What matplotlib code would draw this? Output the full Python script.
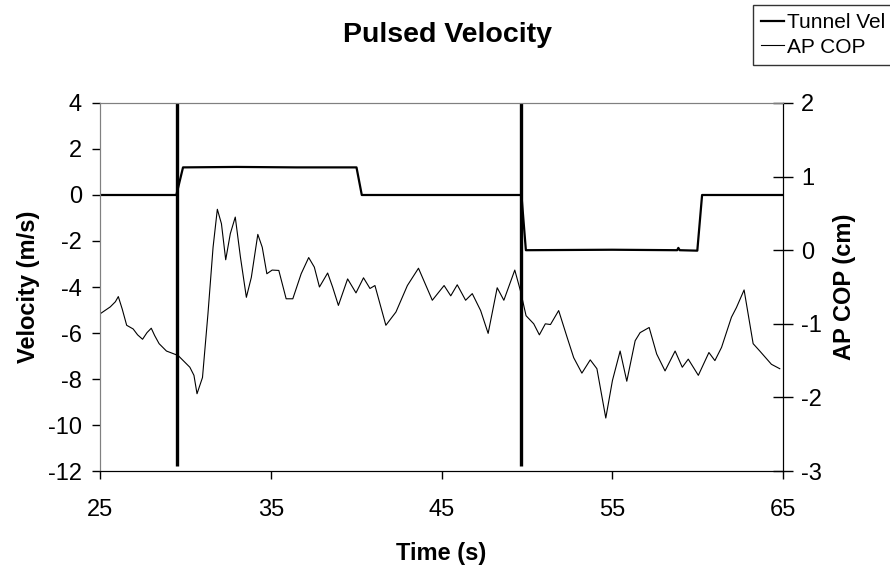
import matplotlib
import matplotlib.pyplot as plt

matplotlib.use('Agg')
plt.rcParams['font.family'] = ['Liberation Sans', 'DejaVu Sans']
plt.rcParams['axes.unicode_minus'] = False

# Tunnel velocity (m/s) against time (s)
tunnel_t = [25.0, 29.47, 29.86, 33.0, 36.5, 40.02, 40.33, 49.68, 49.94,
            55.0, 58.8, 58.87, 58.95, 59.98, 60.26, 65.0]
tunnel_v = [0.0, 0.0, 1.2, 1.22, 1.2, 1.2, 0.0, 0.0, -2.4,
            -2.38, -2.4, -2.3, -2.4, -2.42, 0.0, 0.0]

# Marker lines at the pulse onsets
pulse_t = [29.52, 49.68]
pulse_lo, pulse_hi = -11.8, 4.0

# AP COP (cm) against time (s)
cop_t = [25.0, 25.6, 25.9, 26.07, 26.3, 26.56, 26.94, 27.2, 27.49, 27.75,
         28.0, 28.2, 28.46, 28.89,
         29.57, 30.26, 30.5, 30.68, 31.0, 31.32, 31.62, 31.87, 32.11, 32.36,
         32.63, 32.92, 33.22, 33.57, 33.86, 34.24, 34.5, 34.77, 35.08, 35.47,
         35.9, 36.29, 36.78, 37.22, 37.55, 37.85, 38.33, 38.62, 38.96, 39.5,
         39.99, 40.43, 40.81, 41.1, 41.74, 42.33, 43.0, 43.65, 44.46, 45.15,
         45.54, 45.92, 46.41, 46.8, 47.29, 47.73, 48.26, 48.65, 49.29, 49.62,
         49.95, 50.4, 50.73, 51.08, 51.38, 51.86, 52.35, 52.74, 53.22, 53.71,
         54.1, 54.62, 55.01, 55.46, 55.85, 56.34, 56.63, 57.16, 57.6, 58.09,
         58.68, 59.1, 59.45, 60.04, 60.66, 61.01, 61.4, 61.98, 62.27, 62.72,
         63.25, 63.64, 64.32, 64.81]
cop_v = [-0.865, -0.77, -0.7, -0.63, -0.8, -1.02, -1.07, -1.15, -1.21, -1.12,
         -1.06, -1.16, -1.27, -1.37,
         -1.43, -1.59, -1.7, -1.95, -1.73, -0.865, 0.04, 0.556, 0.36, -0.13,
         0.225, 0.45, -0.09, -0.64, -0.37, 0.215, 0.04, -0.32, -0.27, -0.275,
         -0.66, -0.66, -0.32, -0.10, -0.23, -0.50, -0.31, -0.50, -0.75, -0.39,
         -0.58, -0.375, -0.52, -0.48, -1.02, -0.84, -0.48, -0.245, -0.68, -0.48,
         -0.62, -0.47, -0.68, -0.59, -0.82, -1.13, -0.51, -0.68, -0.27, -0.55,
         -0.89, -1.0, -1.15, -1.0, -1.01, -0.82, -1.18, -1.46, -1.67, -1.49,
         -1.61, -2.28, -1.77, -1.37, -1.78, -1.23, -1.12, -1.05, -1.41, -1.64,
         -1.37, -1.59, -1.48, -1.70, -1.39, -1.50, -1.32, -0.91, -0.78, -0.54,
         -1.27, -1.37, -1.55, -1.61]

fig = plt.figure(figsize=(8.9, 5.69), dpi=100)
ax = fig.add_axes([0.1124, 0.1722, 0.7674, 0.6468])
ax2 = ax.twinx()

# Primary axis: tunnel velocity
ax.plot(tunnel_t, tunnel_v, color='black', linewidth=1.6, label='Tunnel Vel')
ax.vlines(pulse_t, pulse_lo, pulse_hi, color='black', linewidth=2.4)
ax.set_xlim(25, 65)
ax.set_ylim(-12, 4)
ax.set_xticks(range(25, 66, 10))
ax.set_yticks(range(-12, 5, 2))
ax.tick_params(axis='y', direction='out', length=6, width=1, labelsize=17, pad=7)
ax.tick_params(axis='x', direction='out', length=6, width=1, labelsize=17, pad=14)
ax.set_xlabel('Time (s)', fontsize=17, fontweight='bold', labelpad=15)
ax.set_ylabel('Velocity (m/s)', fontsize=17, fontweight='bold', labelpad=6)

# Secondary axis: AP COP
ax2.plot(cop_t, cop_v, color='black', linewidth=0.8, label='AP COP')
ax2.set_ylim(-3, 2)
ax2.set_yticks(range(-3, 3))
ax2.tick_params(axis='y', direction='inout', length=14, width=1, labelsize=17, pad=6)
ax2.set_ylabel('AP COP (cm)', fontsize=17, fontweight='bold', labelpad=8)

for a in (ax, ax2):
    a.spines['top'].set_color('#808080')
    a.spines['left'].set_color('#808080')
    a.spines['bottom'].set_color('black')
    a.spines['right'].set_color('black')

fig.suptitle('Pulsed Velocity', x=0.503, y=0.962, fontsize=20.5, fontweight='bold')

# Legend sits in the top right corner and runs past the edge
handles = ax.get_lines()[:1] + ax2.get_lines()[:1]
leg = fig.legend(handles, [h.get_label() for h in handles], loc='upper left',
                 bbox_to_anchor=(753 / 890, 1 - 5 / 569), fontsize=15,
                 frameon=True, fancybox=False, handlelength=1.1,
                 handletextpad=0.15, borderpad=0.4, labelspacing=0.25,
                 borderaxespad=0)
leg.get_frame().set_edgecolor('black')
leg.get_frame().set_linewidth(1)

fig.savefig('out.png')
